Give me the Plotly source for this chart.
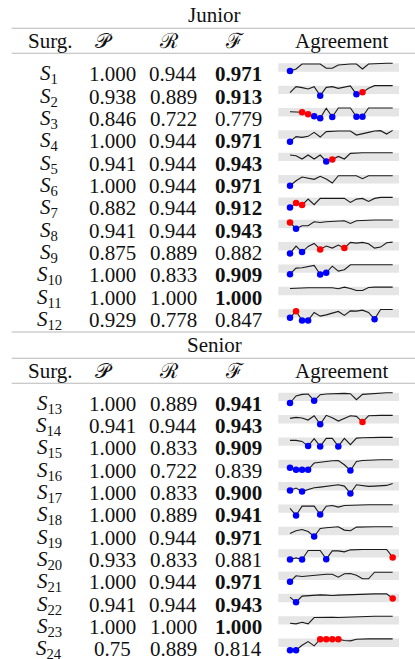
import plotly.graph_objects as go

# ---------------- data ----------------
groups = ["Junior", "Senior"]
rows_per_group = 12
surgeon_ids = list(range(1, 25))
header_labels = ["Surg.", "\U0001D4AB", "\u211B", "\u2131", "Agreement"]

precision = ["1.000", "0.938", "0.846", "1.000", "0.941", "1.000", "0.882", "0.941", "0.875", "1.000", "1.000", "0.929",
             "1.000", "0.941", "1.000", "1.000", "1.000", "1.000", "1.000", "0.933", "1.000", "0.941", "1.000", "0.75"]
recall = ["0.944", "0.889", "0.722", "0.944", "0.944", "0.944", "0.944", "0.944", "0.889", "0.833", "1.000", "0.778",
          "0.889", "0.944", "0.833", "0.722", "0.833", "0.889", "0.944", "0.833", "0.944", "0.944", "1.000", "0.889"]
fscore = ["0.971", "0.913", "0.779", "0.971", "0.943", "0.971", "0.912", "0.943", "0.882", "0.909", "1.000", "0.847",
          "0.941", "0.943", "0.909", "0.839", "0.900", "0.941", "0.971", "0.881", "0.971", "0.943", "1.000", "0.814"]

agreement = [
    [0.23, 0.43, 0.93, 0.93, 0.93, 0.93, 0.50, 0.50, 0.83, 0.90, 0.93, 0.93, 0.43, 0.93, 0.97, 1.00, 1.00, 1.00],
    [0.30, 0.90, 0.80, 0.67, 0.90, 0.00, 0.83, 0.90, 0.73, 0.87, 0.97, 0.13, 0.33, 0.73, 1.00, 1.00, 1.00, 1.00],
    [0.63, 0.57, 0.57, 0.37, 0.17, -0.03, 0.97, 0.10, 1.00, 1.00, 1.00, 0.13, 0.13, 1.00, 1.00, 1.00, 1.00, 1.00],
    [-0.13, 0.37, 0.30, 0.40, 0.80, 0.33, 0.87, 0.93, 0.93, 0.93, 0.93, 0.53, 0.63, 0.80, 0.93, 0.97, 0.63, 1.00],
    [0.77, 0.70, 0.37, 0.77, 0.37, 0.77, 0.13, 0.33, 0.63, 0.37, 0.93, 1.00, 1.00, 1.00, 1.00, 1.00, 1.00, 1.00],
    [-0.07, 0.43, 0.80, 0.67, 0.57, 0.87, 0.60, 0.20, 0.93, 0.93, 0.93, 0.93, 0.63, 0.93, 0.93, 0.93, 0.93, 0.93],
    [0.00, 0.43, 0.23, 0.83, 0.27, 0.90, 0.90, 0.90, 0.90, 0.90, 0.50, 0.83, 0.90, 0.60, 0.90, 1.00, 1.00, 1.00],
    [0.73, 0.10, 0.40, 0.40, 0.80, 0.73, 0.80, 0.83, 0.87, 0.90, 0.63, 0.90, 0.93, 0.97, 0.97, 0.97, 0.97, 0.97],
    [-0.13, 0.60, 0.00, 0.57, 0.87, 0.27, 0.60, 0.40, 0.70, 0.40, 0.97, 0.90, 0.97, 0.83, 0.40, 0.50, 0.93, 1.00],
    [0.03, 0.63, 0.67, 0.77, 0.90, 0.00, 0.17, 0.83, 0.33, 0.47, 0.97, 0.97, 0.97, 0.97, 0.97, 0.97, 0.97, 0.97],
    [0.83, 0.87, 0.87, 0.90, 0.90, 0.90, 0.90, 0.90, 0.80, 0.97, 0.83, 0.63, 0.63, 0.93, 0.97, 0.97, 0.97, 0.97],
    [0.13, 0.80, -0.13, -0.13, 0.67, 0.30, 0.43, 0.60, 0.77, 0.37, 0.83, 0.80, 0.90, 0.67, 0.00, 0.97, 0.97, 0.97],
    [-0.03, 0.67, 0.83, 0.87, 0.20, 0.80, 0.87, 0.90, 0.97, 0.93, 0.90, 0.30, 0.83, 0.87, 0.97, 1.00, 1.00, 1.00],
    [0.67, 0.77, 0.70, 0.50, 0.93, 0.07, 0.97, 0.73, 0.40, 0.67, 0.93, 0.87, 0.30, 0.93, 0.97, 0.97, 0.97, 0.97],
    [0.70, 0.70, 0.60, 0.13, 0.87, 0.10, 0.90, 0.90, 0.10, 0.90, 0.27, 0.93, 0.97, 1.00, 1.00, 1.00, 1.00, 1.00],
    [0.20, 0.00, 0.00, 0.00, 0.67, 0.77, 0.83, 0.90, 0.93, 0.50, -0.07, 0.83, 0.93, 0.97, 1.00, 1.00, 1.00, 1.00],
    [0.17, 0.40, 0.07, 0.27, 0.43, 0.50, 0.57, 0.67, 0.73, 0.60, -0.13, 0.73, 0.63, 0.57, 0.60, 0.63, 0.67, 0.87],
    [0.60, -0.10, 0.83, 0.83, 0.83, 0.00, 0.83, 0.90, 0.73, 0.90, 0.93, 0.97, 0.97, 0.97, 0.97, 0.97, 0.97, 0.97],
    [0.33, 0.60, 0.73, 0.53, 0.03, 0.83, 0.90, 0.97, 1.00, 0.67, 0.60, 0.97, 1.00, 1.00, 1.00, 1.00, 1.00, 1.00],
    [-0.03, 0.13, -0.03, 0.87, 0.87, 0.87, 0.00, 0.83, 0.83, 0.73, 0.93, 0.97, 0.97, 0.97, 0.97, 0.97, 0.97, 0.17],
    [-0.03, 0.57, 0.50, 0.57, 0.63, 0.70, 0.73, 0.73, 0.43, 0.77, 0.80, 0.63, 0.27, 0.27, 0.93, 0.93, 0.93, 0.93],
    [0.67, 0.17, 0.77, 0.83, 0.87, 0.90, 0.87, 0.83, 0.87, 0.90, 0.93, 0.97, 1.00, 1.00, 1.00, 1.00, 1.00, 0.53],
    [0.30, 0.23, 0.40, 0.23, 0.87, 0.90, 0.90, 0.90, 0.87, 0.90, 0.93, 0.97, 0.97, 1.00, 1.00, 1.00, 1.00, 1.00],
    [-0.17, -0.17, 0.33, 0.70, 0.27, 0.93, 0.93, 0.93, 0.93, 0.80, 0.77, 0.93, 0.97, 0.97, 0.97, 0.97, 0.97, 0.97],
]
missed_idx = [[0], [5, 11], [4, 5, 7, 11, 12], [0], [6], [0], [0], [1], [0, 2], [0, 5, 6], [], [0, 2, 3, 14],
              [0, 4], [5], [3, 5, 8], [0, 1, 2, 3, 10], [0, 2, 10], [1, 5], [4], [0, 2, 6], [0], [1], [], [0, 1]]
false_idx = [[], [12], [2, 3], [], [7], [], [1, 2], [0], [5, 9], [], [], [1],
             [], [12], [], [], [], [], [], [17], [], [17], [], [5, 6, 7, 8]]

# ---------------- layout constants (pixels) ----------------
W, H = 415, 659
FONT = "Liberation Serif"
FS = 21
TXT = "#111111"
RULE = "#b8b8b8"
BAND = "#e5e5e5"
BLUE = "#0000ff"
RED = "#ff0000"

group_title_y = [15, 345]
group_rules = [[28.3, 53.3], [358.3, 383.3]]
bottom_rule_y = 332
header_y = [41, 371]
band_top0 = [63.3, 392.7]
row_step = 22.35
text_dy = 10.9
col_x_header = [50, 104, 169, 234, 341.5]
col_x_data = [49, 112.5, 173, 238]
band_x = [278.3, 399.0]
spark_x0, spark_dx = 290.0, 6.04
px_per_unit = 10.0


def py(px):
    return 1 - px / H


def px_x(px):
    return px / W


fig = go.Figure()
annotations = []
shapes = []


def add_text(x, y, text, size=FS):
    annotations.append(dict(x=px_x(x), y=py(y), xref="paper", yref="paper", text=text, showarrow=False,
                            xanchor="center", yanchor="middle", font=dict(family=FONT, size=size, color=TXT)))


def add_rule(y):
    shapes.append(dict(type="line", xref="paper", yref="paper", x0=px_x(11.7), x1=1.0, y0=py(y), y1=py(y),
                       line=dict(color=RULE, width=1.1)))


for g, gname in enumerate(groups):
    add_text(214.5, group_title_y[g], gname)
    for ry in group_rules[g]:
        add_rule(ry)
    for c, lab in enumerate(header_labels):
        add_text(col_x_header[c], header_y[g], lab)
add_rule(bottom_rule_y)

n_pts = len(agreement[0])
x_lo = (band_x[0] - spark_x0) / spark_dx
x_hi = (band_x[1] - spark_x0) / spark_dx
layout_axes = {
    "xaxis": dict(domain=[px_x(band_x[0]), px_x(band_x[1])], range=[x_lo, x_hi], visible=False, fixedrange=True)
}

for k in range(len(surgeon_ids)):
    g = k // rows_per_group
    r = k % rows_per_group
    top = band_top0[g] + r * row_step
    yc = top + text_dy
    # text columns
    add_text(col_x_data[0], yc, f"<i>S</i><sub>{surgeon_ids[k]}</sub>")
    add_text(col_x_data[1], yc, precision[k])
    add_text(col_x_data[2], yc, recall[k])
    fval = fscore[k]
    add_text(col_x_data[3], yc, f"<b>{fval}</b>" if float(fval) >= 0.9 else fval)

    # sparkline axis for this row
    yname = "y" if k == 0 else f"y{k + 1}"
    lname = "yaxis" if k == 0 else f"yaxis{k + 1}"
    pad_top, pad_bot = 4.0, 16.0
    layout_axes[lname] = dict(
        domain=[py(top + pad_bot), py(top - pad_top)],
        range=[1 - pad_bot / px_per_unit, 1 + pad_top / px_per_unit],
        visible=False, fixedrange=True, anchor="x")
    shapes.append(dict(type="rect", xref="x domain", x0=0, x1=1, yref=yname,
                       y0=1 - 8.4 / px_per_unit, y1=1.0, fillcolor=BAND, line=dict(width=0), layer="below"))
    xs = list(range(n_pts))
    fig.add_trace(go.Scatter(x=xs, y=agreement[k], mode="lines", xaxis="x", yaxis=yname,
                             line=dict(color="#1a1a1a", width=1.1), hoverinfo="skip", showlegend=False))
    for idx_list, col in ((missed_idx[k], BLUE), (false_idx[k], RED)):
        if idx_list:
            fig.add_trace(go.Scatter(x=idx_list, y=[agreement[k][i] for i in idx_list], mode="markers",
                                     xaxis="x", yaxis=yname, cliponaxis=False,
                                     marker=dict(color=col, size=6.5, line=dict(width=0)),
                                     hoverinfo="skip", showlegend=False))

fig.update_layout(
    width=W, height=H, margin=dict(l=0, r=0, t=0, b=0),
    paper_bgcolor="white", plot_bgcolor="rgba(0,0,0,0)",
    annotations=annotations, shapes=shapes, showlegend=False,
    **layout_axes,
)

fig.write_html("out.html", config={"displayModeBar": False, "staticPlot": True},
               post_script="document.body.style.margin='0';document.body.style.overflow='hidden';")
